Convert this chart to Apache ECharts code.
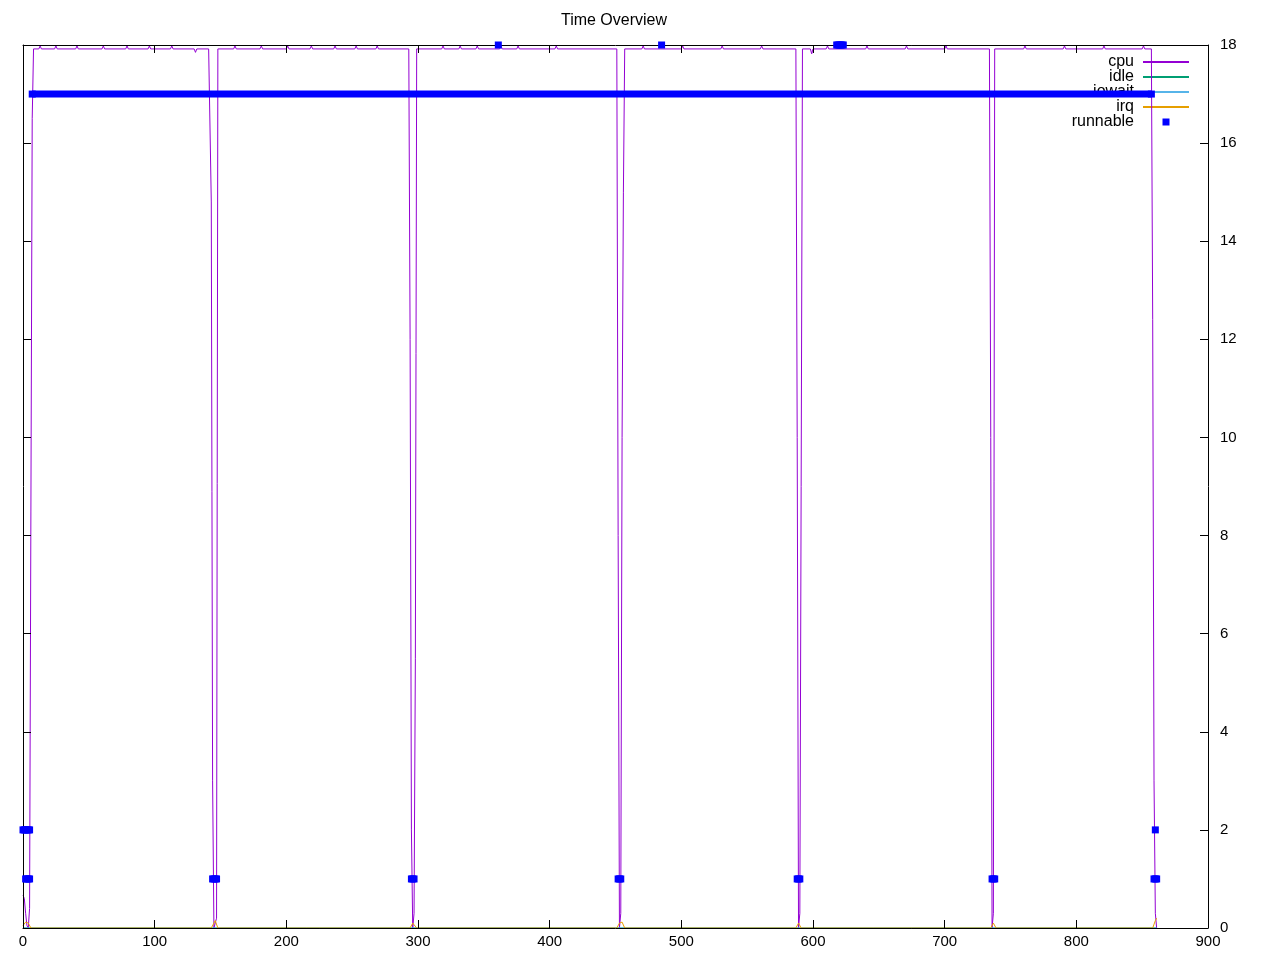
<!DOCTYPE html>
<html><head><meta charset="utf-8">
<script src="https://cdn.jsdelivr.net/npm/echarts@6/dist/echarts.min.js"></script>
<style>html,body{margin:0;padding:0;background:#fff}#c{width:1280px;height:960px}</style>
</head><body><div id="c"></div>
<script>
const title = 'Time Overview';
const seriesNames = ['cpu', 'idle', 'iowait', 'irq', 'runnable'];
const xRange = [0, 900, 100];
const yRange = [0, 18, 2];

const cpu = [
  [0,0.67],[1,0.6],[2,0.3],[3,0.05],[4,0],[5,0.4],[6,8.5],[7,16.5],[8,17.92],
  [12,17.92],[13,17.98],[14,17.92],[24,17.92],[25,17.98],[26,17.92],
  [40,17.92],[41,17.98],[42,17.92],[60,17.92],[61,17.98],[62,17.92],
  [78,17.92],[79,17.98],[80,17.92],[95,17.92],[96,17.98],[97,17.92],
  [112,17.92],[113,17.98],[114,17.92],[130,17.92],[131,17.85],[132,17.92],
  [141,17.92],[142,17.9],[143,14.8],[144,3],[145,0],[147,0.2],[148,17.92],
  [160,17.92],[161,17.98],[162,17.92],[180,17.92],[181,17.98],[182,17.92],
  [200,17.92],[201,17.98],[202,17.92],[218,17.92],[219,17.98],[220,17.92],
  [236,17.92],[237,17.98],[238,17.92],
  [252,17.92],[253,17.98],[254,17.92],[268,17.92],[269,17.98],[270,17.92],
  [293,17.92],[294,12],[295,2],[296,0],[297,0.3],[298,5.5],[299,17.92],
  [318,17.92],[319,17.98],[320,17.92],[331,17.92],[332,17.98],[333,17.92],
  [344,17.92],[345,17.98],[346,17.92],[362,17.92],[363,17.98],[364,17.92],
  [375,17.92],[376,17.98],[377,17.92],[404,17.92],[405,17.98],[406,17.92],
  [451,17.92],[452,8],[453,0],[454,0.3],[455,10],[456,15],[457,17.92],
  [470,17.92],[471,17.98],[472,17.92],[500,17.92],[501,17.98],[502,17.92],
  [530,17.92],[531,17.98],[532,17.92],[560,17.92],[561,17.98],[562,17.92],
  [587,17.92],[588,10],[589,0],[590,0.3],[591,9],[592,17.92],
  [598,17.92],[599,17.82],[600,17.92],[610,17.92],[611,17.98],[612,17.92],
  [640,17.92],[641,17.98],[642,17.92],[670,17.92],[671,17.98],[672,17.92],
  [700,17.92],[701,17.98],[702,17.92],
  [734,17.92],[735,10],[736,0],[737,0.3],[738,17.92],
  [760,17.92],[761,17.98],[762,17.92],[790,17.92],[791,17.98],[792,17.92],
  [820,17.92],[821,17.98],[822,17.92],[850,17.92],[851,17.98],[852,17.92],
  [857,17.92],[858,12.4],[859,3],[860,0.3],[861,0]
];
const idle = [[0,0],[861,0]];
const iowait = [[0,0],[861,0]];
const irq = [
  [0,0.05],[2,0.12],[4,0.1],[6,0],[143,0],[145,0.1],[146,0.15],[148,0],
  [294,0],[296,0.1],[297,0.12],[299,0],[451,0],[453,0.1],[455,0.12],[457,0],
  [587,0],[589,0.1],[591,0],[735,0],[737,0.1],[739,0],[858,0],[860,0.15],[861,0.2]
];
const runnableBand = [[7,17],[857,17]];
const runnablePoints = [
  [0,2],[1,2],[2,2],[3,2],[4,2],[5,2],[860,2],
  [2,1],[3,1],[4,1],[5,1],
  [144,1],[145,1],[146,1],[147,1],
  [295,1],[296,1],[297,1],
  [452,1],[453,1],[454,1],
  [588,1],[589,1],[590,1],
  [736,1],[737,1],[738,1],
  [859,1],[860,1],[861,1],
  [361,18],[485,18],[618,18],[619,18],[620,18],[621,18],[622,18],[623,18]
];

const colors = { cpu: '#9400d3', idle: '#009e73', iowait: '#56b4e9', irq: '#e69f00', runnable: '#0000ff' };
const FONT = '"Liberation Sans", Arial, sans-serif';

const chart = echarts.init(document.getElementById('c'), null, { renderer: 'canvas' });

function axisX(pos, showLabel) {
  return {
    type: 'value', position: pos, min: xRange[0], max: xRange[1], interval: xRange[2], z: 10,
    axisLine: { show: true, onZero: false, lineStyle: { color: '#000', width: 1 } },
    axisTick: { show: true, inside: true, length: 8, lineStyle: { color: '#000' } },
    axisLabel: { show: showLabel, color: '#000', fontSize: 15, fontFamily: FONT, margin: 6 },
    splitLine: { show: false }
  };
}
function axisY(pos, showLabel) {
  return {
    type: 'value', position: pos, min: yRange[0], max: yRange[1], interval: yRange[2], z: 10,
    axisLine: { show: true, onZero: false, lineStyle: { color: '#000', width: 1 } },
    axisTick: { show: true, inside: true, length: 8, lineStyle: { color: '#000' } },
    axisLabel: { show: showLabel, color: '#000', fontSize: 15, fontFamily: FONT, margin: 12 },
    splitLine: { show: false }
  };
}
function lineSeries(name, data) {
  return {
    name, type: 'line', data, xAxisIndex: 0, yAxisIndex: 0, z: 2,
    symbol: 'none', showSymbol: false,
    lineStyle: { color: colors[name], width: 1 }, itemStyle: { color: colors[name] },
    animation: false
  };
}

chart.setOption({
  animation: false,
  backgroundColor: '#fff',
  title: {
    text: title, left: 614, top: 13, textAlign: 'center', padding: 0,
    textStyle: { color: '#000', fontSize: 16, fontWeight: 'normal', fontFamily: FONT }
  },
  grid: { left: 23, right: 72, top: 45, bottom: 32, containLabel: false },
  xAxis: [axisX('bottom', true), axisX('top', false)],
  yAxis: [axisY('right', true), axisY('left', false)],
  legend: {
    orient: 'vertical', right: 90, top: 54, padding: 0, itemGap: -1, z: 1,
    align: 'right', itemWidth: 46, itemHeight: 8.75, selectedMode: false,
    textStyle: { color: '#000', fontSize: 16, fontFamily: FONT, lineHeight: 15, padding: [0, 4, 0, 0] },
    data: [
      { name: 'cpu', itemStyle: { opacity: 0 } },
      { name: 'idle', itemStyle: { opacity: 0 } },
      { name: 'iowait', itemStyle: { opacity: 0 } },
      { name: 'irq', itemStyle: { opacity: 0 } },
      { name: 'runnable', lineStyle: { opacity: 0 } }
    ]
  },
  series: [
    lineSeries('cpu', cpu),
    lineSeries('idle', idle),
    lineSeries('iowait', iowait),
    lineSeries('irq', irq),
    {
      name: 'runnable', type: 'line', data: runnableBand, z: 11, clip: false,
      symbol: 'rect', symbolSize: 7, showSymbol: true,
      lineStyle: { color: colors.runnable, width: 7, cap: 'butt' },
      itemStyle: { color: colors.runnable }, animation: false
    },
    {
      name: 'runnable', type: 'scatter', data: runnablePoints, z: 11, clip: false,
      symbol: 'rect', symbolSize: 7,
      itemStyle: { color: colors.runnable, opacity: 1 }, animation: false
    }
  ]
});
</script>
</body></html>
